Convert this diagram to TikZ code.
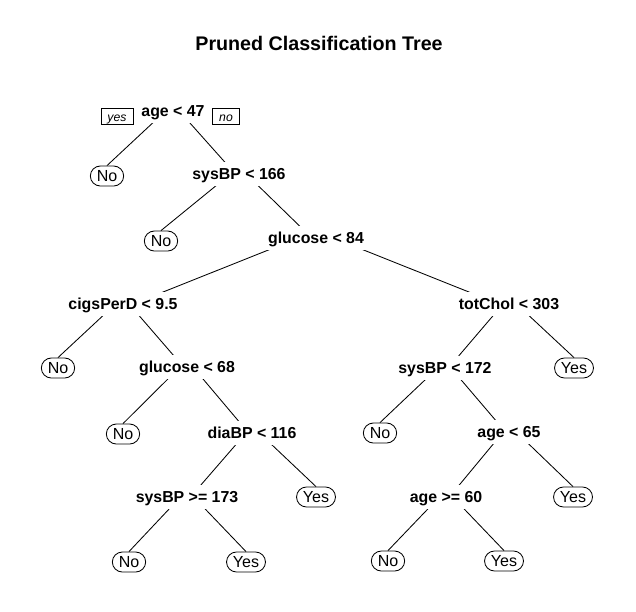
\documentclass[tikz,border=0pt]{standalone}
\usepackage{fontspec}
\setmainfont{Liberation Sans}
\usepackage{tikz}
\usetikzlibrary{backgrounds}

\begin{document}
\begin{tikzpicture}[x=0.025cm, y=-0.025cm,
        split/.style={fill=white, inner xsep=1pt, inner ysep=0pt, minimum height=0.6cm, text height=0.72em, text depth=0pt, font=\fontsize{11.3pt}{13pt}\selectfont\bfseries},
        leaf/.style={draw, line width=0.6pt, fill=white, rounded corners=0.25cm, inner xsep=0.16cm, inner ysep=0pt, minimum height=0.5cm, text height=0.72em, text depth=0pt, font=\fontsize{11.4pt}{13pt}\selectfont},
        tag/.style={draw, line width=0.5pt, inner xsep=0.16cm, inner ysep=0pt, minimum height=0.4cm, text height=0.72em, text depth=0pt, font=\fontsize{8.7pt}{10pt}\selectfont\itshape},
        branch/.style={line width=0.6pt}]
        \useasboundingbox (0,0) rectangle (636,611);

        \node (title) at (319,43)[font=\fontsize{14pt}{16pt}\selectfont\bfseries] {Pruned Classification Tree};

        \node (age47) at (173,111)[split] {age < 47};
        \node (yes) at (117,116)[tag] {yes};
        \node (no) at (226,116)[tag] {no};
        \node (no1) at (107,176)[leaf] {No};
        \node (sysBP166) at (239,174)[split] {sysBP < 166};
        \node (no2) at (161,241)[leaf] {No};
        \node (glucose84) at (316,238)[split] {glucose < 84};

        \node (cigsPerD) at (123,304)[split] {cigsPerD < 9.5};
        \node (no3) at (58,368)[leaf] {No};
        \node (glucose68) at (187,367)[split] {glucose < 68};
        \node (no4) at (123,434)[leaf] {No};
        \node (diaBP116) at (252,433)[split] {diaBP < 116};
        \node (sysBP173) at (187,497)[split] {sysBP >= 173};
        \node (yes2) at (316,497)[leaf] {Yes};
        \node (no6) at (129,562)[leaf] {No};
        \node (yes4) at (246,562)[leaf] {Yes};

        \node (totChol) at (509,304)[split] {totChol < 303};
        \node (sysBP172) at (445,368)[split] {sysBP < 172};
        \node (yes1) at (574,368)[leaf] {Yes};
        \node (no5) at (380,433)[leaf] {No};
        \node (age65) at (509,432)[split] {age < 65};
        \node (age60) at (446,497)[split] {age >= 60};
        \node (yes3) at (573,497)[leaf] {Yes};
        \node (no7) at (388,561)[leaf] {No};
        \node (yes5) at (504,561)[leaf] {Yes};

        \begin{scope}[on background layer]
        \draw[branch] ([yshift=0.175cm]age47.center) -- (no1.north);
        \draw[branch] ([yshift=0.175cm]age47.center) -- ([yshift=-0.1cm]sysBP166.center);
        \draw[branch] ([yshift=0.175cm]sysBP166.center) -- (no2.north);
        \draw[branch] ([yshift=0.175cm]sysBP166.center) -- ([yshift=-0.1cm]glucose84.center);
        \draw[branch] ([yshift=0.175cm]glucose84.center) -- ([yshift=-0.1cm]cigsPerD.center);
        \draw[branch] ([yshift=0.175cm]glucose84.center) -- ([yshift=-0.1cm]totChol.center);

        \draw[branch] ([yshift=0.175cm]cigsPerD.center) -- (no3.north);
        \draw[branch] ([yshift=0.175cm]cigsPerD.center) -- ([yshift=-0.1cm]glucose68.center);
        \draw[branch] ([yshift=0.175cm]glucose68.center) -- (no4.north);
        \draw[branch] ([yshift=0.175cm]glucose68.center) -- ([yshift=-0.1cm]diaBP116.center);
        \draw[branch] ([yshift=0.175cm]diaBP116.center) -- ([yshift=-0.1cm]sysBP173.center);
        \draw[branch] ([yshift=0.175cm]diaBP116.center) -- (yes2.north);
        \draw[branch] ([yshift=0.175cm]sysBP173.center) -- (no6.north);
        \draw[branch] ([yshift=0.175cm]sysBP173.center) -- (yes4.north);

        \draw[branch] ([yshift=0.175cm]totChol.center) -- ([yshift=-0.1cm]sysBP172.center);
        \draw[branch] ([yshift=0.175cm]totChol.center) -- (yes1.north);
        \draw[branch] ([yshift=0.175cm]sysBP172.center) -- (no5.north);
        \draw[branch] ([yshift=0.175cm]sysBP172.center) -- ([yshift=-0.1cm]age65.center);
        \draw[branch] ([yshift=0.175cm]age65.center) -- ([yshift=-0.1cm]age60.center);
        \draw[branch] ([yshift=0.175cm]age65.center) -- (yes3.north);
        \draw[branch] ([yshift=0.175cm]age60.center) -- (no7.north);
        \draw[branch] ([yshift=0.175cm]age60.center) -- (yes5.north);
        \end{scope}

    \end{tikzpicture}
\end{document}
